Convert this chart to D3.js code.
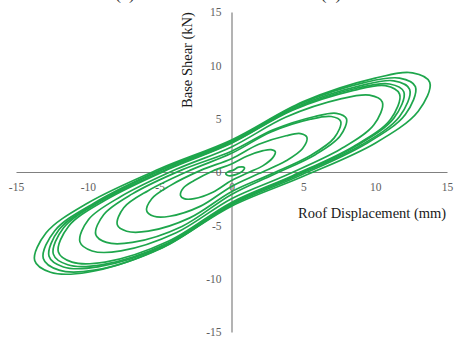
<!DOCTYPE html>
<html>
<head>
<meta charset="utf-8">
<script src="https://cdn.jsdelivr.net/npm/d3@7"></script>
<style>
  html, body { margin: 0; padding: 0; background: #ffffff; }
  svg { display: block; }
</style>
</head>
<body>
<svg id="chart" width="461" height="341"></svg>
<script>
// Tick values for both axes
const xTicks = [-15, -10, -5, 0, 5, 10, 15];
const yTicks = [-15, -10, -5, 0, 5, 10, 15];

// Hysteresis cycles: [roof displacement (mm), base shear (kN)], traced around each loop
const cycle1 = [[0,3.0],[5.0,6.6],[10.0,8.8],[12.6,9.3],[13.8,8.4],[13.0,5.7],[10.0,2.7],[5.0,-0.4],[0,-3.2],[-5.0,-7.2],[-10.0,-9.4],[-12.6,-9.4],[-13.7,-8.3],[-12.9,-5.7],[-10.0,-2.9],[-5.0,0.3]];
const cycle2 = [[0,2.9],[4.65,6.3],[9.3,8.4],[11.7,8.8],[12.8,8.0],[12.1,5.4],[9.3,2.6],[4.65,-0.4],[0,-3.1],[-4.8,-7.1],[-9.55,-9.2],[-12.0,-9.2],[-13.1,-8.1],[-12.3,-5.5],[-9.55,-2.9],[-4.8,0.3]];
const cycle3 = [[0,2.8],[4.5,6.1],[9.0,8.1],[11.3,8.55],[12.4,7.75],[11.7,5.2],[9.0,2.5],[4.5,-0.35],[0,-3.0],[-4.65,-6.9],[-9.3,-8.9],[-11.7,-8.9],[-12.7,-7.9],[-12.0,-5.4],[-9.3,-2.8],[-4.65,0.3]];
const cycle4 = [[0,2.75],[4.35,5.9],[8.7,7.85],[11.0,8.25],[12.0,7.5],[11.3,5.05],[8.7,2.45],[4.35,-0.35],[0,-2.95],[-4.5,-6.7],[-9.05,-8.7],[-11.4,-8.7],[-12.4,-7.7],[-11.7,-5.25],[-9.05,-2.7],[-4.5,0.25]];
const cycle5 = [[0,2.7],[4.25,5.8],[8.5,7.65],[10.7,8.1],[11.7,7.3],[11.05,4.9],[8.5,2.4],[4.25,-0.35],[0,-2.85],[-4.4,-6.5],[-8.8,-8.45],[-11.1,-8.45],[-12.05,-7.5],[-11.35,-5.1],[-8.8,-2.65],[-4.4,0.25]];
const cycle6 = [[0,2.35],[3.8,5.15],[7.6,6.85],[9.6,7.2],[10.5,6.55],[9.9,4.4],[7.6,2.15],[3.8,-0.3],[0,-2.5],[-3.85,-5.7],[-7.7,-7.4],[-9.7,-7.4],[-10.55,-6.55],[-9.95,-4.45],[-7.7,-2.3],[-3.85,0.25]];
const cycle7 = [[0,1.95],[2.9,3.95],[5.8,5.2],[7.3,5.5],[8.0,5.0],[7.55,3.35],[5.8,1.6],[2.9,-0.25],[0,-2.1],[-3.45,-5.1],[-6.9,-6.6],[-8.7,-6.6],[-9.45,-5.85],[-8.9,-4.0],[-6.9,-2.05],[-3.45,0.2]];
const cycle8 = [[0,1.75],[2.75,3.75],[5.5,4.95],[6.95,5.2],[7.6,4.75],[7.15,3.2],[5.5,1.55],[2.75,-0.2],[0,-1.85],[-2.9,-4.3],[-5.8,-5.55],[-7.3,-5.55],[-7.95,-4.95],[-7.5,-3.35],[-5.8,-1.75],[-2.9,0.15]];
const cycle9 = [[0,1.25],[1.9,2.6],[3.8,3.4],[4.8,3.6],[5.25,3.25],[4.95,2.2],[3.8,1.05],[1.9,-0.15],[0,-1.35],[-2.15,-3.2],[-4.3,-4.15],[-5.4,-4.15],[-5.9,-3.65],[-5.55,-2.5],[-4.3,-1.3],[-2.15,0.15]];
const cycle10 = [[0,0.75],[1.1,1.5],[2.2,2.0],[2.75,2.1],[3.05,1.9],[2.85,1.3],[2.2,0.6],[1.1,-0.1],[0,-0.8],[-1.3,-1.9],[-2.6,-2.5],[-3.3,-2.5],[-3.55,-2.2],[-3.35,-1.5],[-2.6,-0.8],[-1.3,0.1]];
const cycle11 = [[0.1,0.15],[0.5,0.45],[0.9,0.4],[0.75,0.05],[0.3,-0.25],[-0.2,-0.35],[-0.4,-0.15],[-0.2,0.05]];

const cycles = [cycle1, cycle2, cycle3, cycle4, cycle5, cycle6, cycle7, cycle8, cycle9, cycle10, cycle11];

const svg = d3.select("#chart");

const x = d3.scaleLinear().domain([-15, 15]).range([16, 447]);
const y = d3.scaleLinear().domain([-15, 15]).range([332, 12]);

const serif = "'Liberation Serif', 'Times New Roman', serif";

// Panel captions running off the top edge
svg.append("text").attr("x", 125).attr("y", -1).attr("text-anchor", "middle")
  .attr("font-family", serif).attr("font-size", 18).attr("fill", "#333").text("(a)");
svg.append("text").attr("x", 331).attr("y", -1).attr("text-anchor", "middle")
  .attr("font-family", serif).attr("font-size", 18).attr("fill", "#333").text("(b)");

// Axis lines through the origin
const xAxis = d3.axisBottom(x).tickValues(xTicks).tickSize(0).tickPadding(11).tickFormat(d3.format("d"));
const yAxis = d3.axisLeft(y).tickValues(yTicks).tickSize(0).tickPadding(10).tickFormat(d3.format("d"));

const gx = svg.append("g").attr("transform", `translate(0,${y(0)})`).call(xAxis);
const gy = svg.append("g").attr("transform", `translate(${x(0)},0)`).call(yAxis);

[gx, gy].forEach(g => {
  g.select(".domain").attr("stroke", "#808080").attr("stroke-width", 1.2);
  g.selectAll(".tick text")
    .attr("font-family", serif)
    .attr("font-size", 11.5)
    .attr("fill", "#5e5e5e");
});
gx.selectAll(".tick text").text(d => d < 0 ? "-" + Math.abs(d) : d);
gy.selectAll(".tick text").text(d => d < 0 ? "-" + Math.abs(d) : d);

// Hysteresis loops
const line = d3.line()
  .x(d => x(d[0]))
  .y(d => y(d[1]))
  .curve(d3.curveCatmullRomClosed.alpha(0.5));

svg.append("g").selectAll("path")
  .data(cycles)
  .join("path")
  .attr("d", line)
  .attr("fill", "none")
  .attr("stroke", "#1ea64c")
  .attr("stroke-width", 1.7)
  .attr("stroke-linejoin", "round");

// Axis titles
svg.append("text")
  .attr("transform", `translate(192,60) rotate(-90)`)
  .attr("text-anchor", "middle")
  .attr("font-family", serif)
  .attr("font-size", 14.5)
  .attr("fill", "#1a1a1a")
  .text("Base Shear (kN)");

svg.append("text")
  .attr("x", 298)
  .attr("y", 218)
  .attr("font-family", serif)
  .attr("font-size", 14.5)
  .attr("fill", "#1a1a1a")
  .text("Roof Displacement (mm)");
</script>
</body>
</html>
